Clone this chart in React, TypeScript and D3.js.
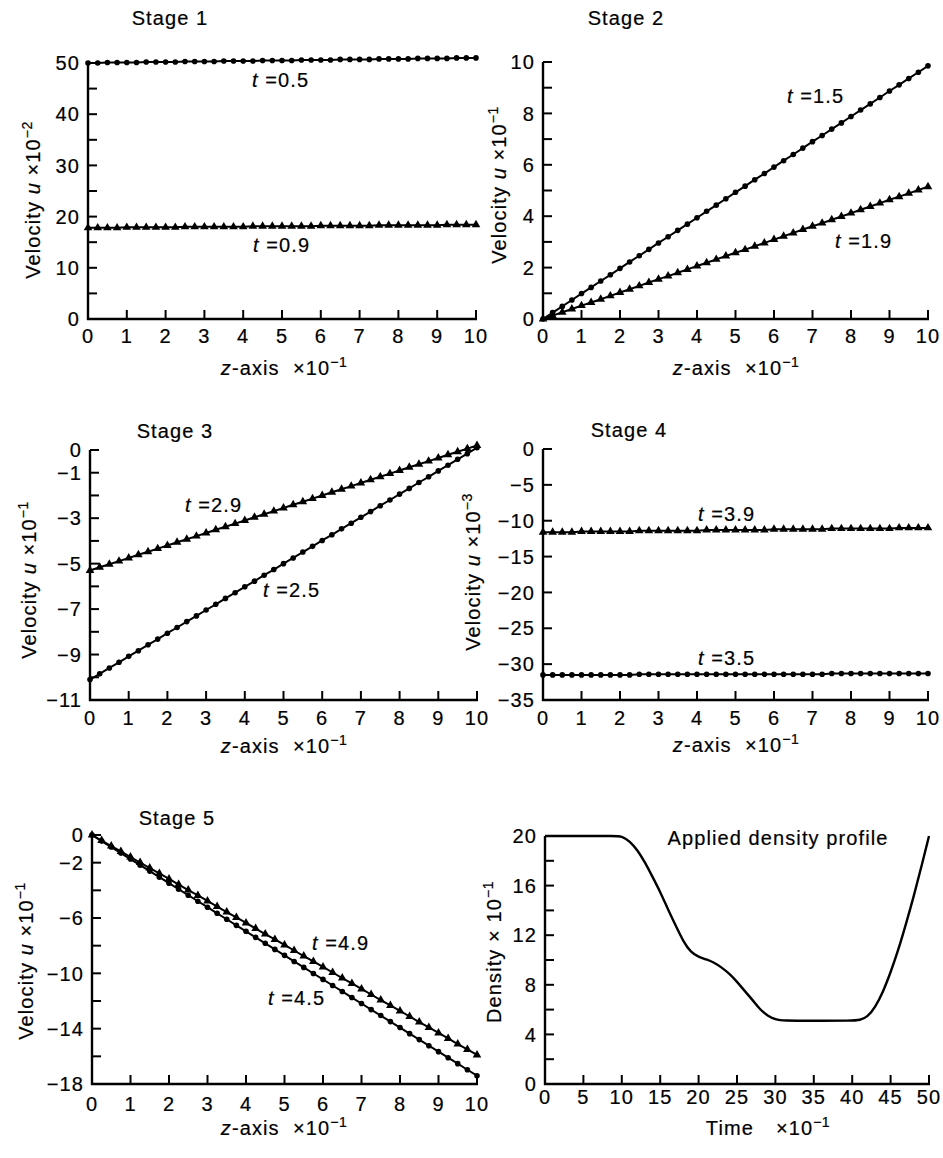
import * as d3 from 'd3';

const FONT = '"Liberation Sans", Arial, Helvetica, sans-serif';

// computed nodes along the z-axis (x10^-1)
const zNodes = [0, 0.25, 0.5, 0.75, 1, 1.25, 1.5, 1.75, 2, 2.25, 2.5, 2.75, 3, 3.25, 3.5, 3.75, 4, 4.25, 4.5, 4.75, 5, 5.25, 5.5, 5.75, 6, 6.25, 6.5, 6.75, 7, 7.25, 7.5, 7.75, 8, 8.25, 8.5, 8.75, 9, 9.25, 9.5, 9.75, 10];

// Stage 1 (x10^-2)
const uT05 = [50.0, 50.0, 50.1, 50.1, 50.1, 50.1, 50.2, 50.2, 50.2, 50.2, 50.3, 50.3, 50.3, 50.3, 50.4, 50.4, 50.4, 50.4, 50.5, 50.5, 50.5, 50.5, 50.6, 50.6, 50.6, 50.6, 50.7, 50.7, 50.7, 50.7, 50.8, 50.8, 50.8, 50.8, 50.9, 50.9, 50.9, 50.9, 51.0, 51.0, 51.0];
const uT09 = [17.8, 17.8, 17.8, 17.8, 17.9, 17.9, 17.9, 17.9, 17.9, 17.9, 18.0, 18.0, 18.0, 18.0, 18.0, 18.0, 18.0, 18.1, 18.1, 18.1, 18.1, 18.1, 18.1, 18.1, 18.2, 18.2, 18.2, 18.2, 18.2, 18.2, 18.3, 18.3, 18.3, 18.3, 18.3, 18.3, 18.3, 18.4, 18.4, 18.4, 18.4];

// Stage 2 (x10^-1)
const uT15 = [0.00, 0.25, 0.49, 0.74, 0.99, 1.23, 1.48, 1.72, 1.97, 2.22, 2.46, 2.71, 2.96, 3.20, 3.45, 3.69, 3.94, 4.19, 4.43, 4.68, 4.93, 5.17, 5.42, 5.66, 5.91, 6.16, 6.40, 6.65, 6.90, 7.14, 7.39, 7.63, 7.88, 8.13, 8.37, 8.62, 8.87, 9.11, 9.36, 9.60, 9.85];
const uT19 = [0.00, 0.13, 0.26, 0.39, 0.52, 0.64, 0.77, 0.90, 1.03, 1.16, 1.29, 1.42, 1.55, 1.67, 1.80, 1.93, 2.06, 2.19, 2.32, 2.45, 2.58, 2.70, 2.83, 2.96, 3.09, 3.22, 3.35, 3.48, 3.61, 3.73, 3.86, 3.99, 4.12, 4.25, 4.38, 4.51, 4.64, 4.76, 4.89, 5.02, 5.15];

// Stage 3 (x10^-1)
const uT29 = [-5.30, -5.16, -5.03, -4.89, -4.75, -4.61, -4.48, -4.34, -4.20, -4.06, -3.93, -3.79, -3.65, -3.51, -3.38, -3.24, -3.10, -2.96, -2.83, -2.69, -2.55, -2.41, -2.28, -2.14, -2.00, -1.86, -1.73, -1.59, -1.45, -1.31, -1.18, -1.04, -0.90, -0.76, -0.63, -0.49, -0.35, -0.21, -0.08, 0.06, 0.20];
const uT25 = [-10.10, -9.85, -9.59, -9.34, -9.08, -8.83, -8.57, -8.32, -8.06, -7.81, -7.55, -7.30, -7.04, -6.79, -6.53, -6.28, -6.02, -5.77, -5.51, -5.26, -5.00, -4.75, -4.49, -4.24, -3.98, -3.73, -3.47, -3.22, -2.96, -2.71, -2.45, -2.20, -1.94, -1.69, -1.43, -1.18, -0.92, -0.67, -0.41, -0.16, 0.10];

// Stage 4 (x10^-3)
const uT39 = [-11.6, -11.6, -11.6, -11.6, -11.5, -11.5, -11.5, -11.5, -11.5, -11.5, -11.4, -11.4, -11.4, -11.4, -11.4, -11.4, -11.4, -11.3, -11.3, -11.3, -11.3, -11.3, -11.3, -11.3, -11.2, -11.2, -11.2, -11.2, -11.2, -11.2, -11.1, -11.1, -11.1, -11.1, -11.1, -11.1, -11.1, -11.0, -11.0, -11.0, -11.0];
const uT35 = [-31.5, -31.5, -31.5, -31.5, -31.5, -31.5, -31.5, -31.5, -31.5, -31.5, -31.4, -31.4, -31.4, -31.4, -31.4, -31.4, -31.4, -31.4, -31.4, -31.4, -31.4, -31.4, -31.4, -31.4, -31.4, -31.4, -31.4, -31.4, -31.4, -31.4, -31.3, -31.3, -31.3, -31.3, -31.3, -31.3, -31.3, -31.3, -31.3, -31.3, -31.3];

// Stage 5 (x10^-1)
const uT49 = [0.00, -0.40, -0.80, -1.19, -1.59, -1.99, -2.39, -2.78, -3.18, -3.58, -3.98, -4.37, -4.77, -5.17, -5.57, -5.96, -6.36, -6.76, -7.16, -7.55, -7.95, -8.35, -8.75, -9.14, -9.54, -9.94, -10.34, -10.73, -11.13, -11.53, -11.93, -12.32, -12.72, -13.12, -13.52, -13.91, -14.31, -14.71, -15.11, -15.50, -15.90];
const uT45 = [0.00, -0.44, -0.87, -1.31, -1.74, -2.18, -2.61, -3.05, -3.48, -3.92, -4.35, -4.79, -5.22, -5.66, -6.09, -6.53, -6.96, -7.40, -7.83, -8.27, -8.70, -9.14, -9.57, -10.01, -10.44, -10.88, -11.31, -11.75, -12.18, -12.62, -13.05, -13.49, -13.92, -14.36, -14.79, -15.23, -15.66, -16.10, -16.53, -16.97, -17.40];

// Applied density profile (time x10^-1, density x10^-1)
const densityTime = [0, 5, 9, 10, 11, 12, 13, 14, 15, 16, 17, 18, 19, 20, 21, 22, 23, 24, 25, 26, 27, 28, 29, 30, 31, 35, 40, 41, 42, 43, 44, 45, 46, 47, 48, 49, 50];
const densityValue = [20, 20, 20, 20, 19.6, 18.9, 17.9, 16.7, 15.5, 14.1, 12.8, 11.5, 10.6, 10.25, 10.05, 9.8, 9.4, 8.9, 8.25, 7.5, 6.8, 6.0, 5.5, 5.2, 5.1, 5.1, 5.1, 5.15, 5.4, 6.2, 7.4, 9.0, 10.8, 12.9, 15.1, 17.5, 20];

const zTicks = [0, 1, 2, 3, 4, 5, 6, 7, 8, 9, 10];
const timeTicks = [0, 5, 10, 15, 20, 25, 30, 35, 40, 45, 50];

type Seg = { t: string; i?: boolean; sup?: boolean; dx?: number };
type Series = { y: number[]; x?: number[]; marker?: 'circle' | 'triangle'; smooth?: boolean };
type Note = { time: string; x: number; y: number };

const velTitle = (exp: string): Seg[] => [{ t: 'Velocity ' }, { t: 'u', i: true }, { t: ' \u00d710' }, { t: exp, sup: true }];
const zTitle: Seg[] = [{ t: 'z', i: true }, { t: '-axis  \u00d710' }, { t: '\u22121', sup: true }];

const panels = [
  {
    left: 88, right: 476, top: 63, bottom: 319,
    xDomain: [0, 10], yDomain: [0, 50], xTicks: zTicks,
    yTicks: [0, 5, 10, 15, 20, 25, 30, 35, 40, 45, 50], yLabels: [0, 10, 20, 30, 40, 50],
    title: { text: 'Stage 1', x: 170, y: 25 },
    xTitle: { segs: zTitle, x: 284, y: 375 }, xLabelDy: 24,
    yTitle: { segs: velTitle('\u22122'), x: 33, y: 200 },
    series: [{ y: uT05, marker: 'circle' }, { y: uT09, marker: 'triangle' }] as Series[],
    notes: [{ time: '0.5', x: 252, y: 87 }, { time: '0.9', x: 253, y: 252 }] as Note[],
  },
  {
    left: 543, right: 928, top: 62, bottom: 319,
    xDomain: [0, 10], yDomain: [0, 10], xTicks: zTicks,
    yTicks: [0, 1, 2, 3, 4, 5, 6, 7, 8, 9, 10], yLabels: [0, 2, 4, 6, 8, 10],
    title: { text: 'Stage 2', x: 626, y: 25 },
    xTitle: { segs: zTitle, x: 736, y: 375 }, xLabelDy: 24,
    yTitle: { segs: velTitle('\u22121'), x: 499, y: 185 },
    series: [{ y: uT15, marker: 'circle' }, { y: uT19, marker: 'triangle' }] as Series[],
    notes: [{ time: '1.5', x: 787, y: 103 }, { time: '1.9', x: 835, y: 248 }] as Note[],
  },
  {
    left: 90, right: 477, top: 450, bottom: 700,
    xDomain: [0, 10], yDomain: [-11, 0], xTicks: zTicks,
    yTicks: [0, -1, -2, -3, -4, -5, -6, -7, -8, -9, -10, -11], yLabels: [0, -1, -3, -5, -7, -9, -11],
    title: { text: 'Stage 3', x: 175, y: 438 },
    xTitle: { segs: zTitle, x: 284, y: 753 }, xLabelDy: 25,
    yTitle: { segs: velTitle('\u22121'), x: 29, y: 580 },
    series: [{ y: uT29, marker: 'triangle' }, { y: uT25, marker: 'circle' }] as Series[],
    notes: [{ time: '2.9', x: 185, y: 512 }, { time: '2.5', x: 263, y: 597 }] as Note[],
  },
  {
    left: 543, right: 928, top: 449, bottom: 700,
    xDomain: [0, 10], yDomain: [-35, 0], xTicks: zTicks,
    yTicks: [0, -5, -10, -15, -20, -25, -30, -35], yLabels: [0, -5, -10, -15, -20, -25, -30, -35],
    title: { text: 'Stage 4', x: 629, y: 437 },
    xTitle: { segs: zTitle, x: 736, y: 752 }, xLabelDy: 25,
    yTitle: { segs: velTitle('\u22123'), x: 473, y: 572 },
    series: [{ y: uT39, marker: 'triangle' }, { y: uT35, marker: 'circle' }] as Series[],
    notes: [{ time: '3.9', x: 698, y: 521 }, { time: '3.5', x: 698, y: 665 }] as Note[],
  },
  {
    left: 92, right: 477, top: 835, bottom: 1084,
    xDomain: [0, 10], yDomain: [-18, 0], xTicks: zTicks,
    yTicks: [0, -2, -4, -6, -8, -10, -12, -14, -16, -18], yLabels: [0, -2, -6, -10, -14, -18],
    title: { text: 'Stage 5', x: 177, y: 825 },
    xTitle: { segs: zTitle, x: 284, y: 1135 }, xLabelDy: 27,
    yTitle: { segs: velTitle('\u22121'), x: 26, y: 961 },
    series: [{ y: uT49, marker: 'triangle' }, { y: uT45, marker: 'circle' }] as Series[],
    notes: [{ time: '4.9', x: 312, y: 950 }, { time: '4.5', x: 268, y: 1005 }] as Note[],
  },
  {
    left: 545, right: 929, top: 836, bottom: 1084,
    xDomain: [0, 50], yDomain: [0, 20], xTicks: timeTicks,
    yTicks: [0, 2, 4, 6, 8, 10, 12, 14, 16, 18, 20], yLabels: [0, 4, 8, 12, 16, 20],
    title: { text: 'Applied density profile', x: 778, y: 845 },
    xTitle: { segs: [{ t: 'Time' }, { t: '\u00d710', dx: 22 }, { t: '\u22121', sup: true }] as Seg[], x: 768, y: 1135 }, xLabelDy: 20,
    yTitle: { segs: [{ t: 'Density \u00d7 10' }, { t: '\u22121', sup: true }] as Seg[], x: 494, y: 952 },
    series: [{ x: densityTime, y: densityValue, smooth: true }] as Series[],
    notes: [] as Note[],
  },
];

function Segs({ segs }: { segs: Seg[] }) {
  return (
    <>
      {segs.map((s, k) => (
        <tspan key={k} fontStyle={s.i ? 'italic' : undefined} fontSize={s.sup ? 14 : undefined}
          dy={s.sup ? -8 : undefined} dx={s.dx} letterSpacing={s.sup ? 0.5 : undefined}>
          {s.t}
        </tspan>
      ))}
    </>
  );
}

function Panel({ p }: { p: typeof panels[number] }) {
  const x = d3.scaleLinear().domain(p.xDomain).range([p.left, p.right]);
  const y = d3.scaleLinear().domain(p.yDomain).range([p.bottom, p.top]);
  const tri = d3.symbol(d3.symbolTriangle, 32)();
  const fmt = (v: number) => (v < 0 ? '\u2212' + Math.abs(v) : String(v));

  return (
    <g>
      {p.series.map((s, k) => {
        const xs = s.x ?? zNodes;
        const pts = s.y.map((v, i) => [xs[i], v] as [number, number]);
        const line = d3.line<[number, number]>()
          .x(d => x(d[0])).y(d => y(d[1]))
          .curve(s.smooth ? d3.curveBasis : d3.curveLinear);
        return (
          <g key={k}>
            <path d={line(pts) ?? ''} fill="none" stroke="#000" strokeWidth={s.smooth ? 2.4 : 2} />
            {s.marker && pts.map((d, i) => s.marker === 'circle'
              ? <circle key={i} cx={x(d[0])} cy={y(d[1])} r={2.8} fill="#000" />
              : <path key={i} d={tri ?? ''} transform={`translate(${x(d[0])},${y(d[1])})`} fill="#000" />)}
          </g>
        );
      })}

      {/* axes */}
      <line x1={p.left} x2={p.left} y1={p.top} y2={p.bottom + 1} stroke="#000" strokeWidth={2.4} />
      <line x1={p.left - 1} x2={p.right + 1} y1={p.bottom} y2={p.bottom} stroke="#000" strokeWidth={2.4} />
      {p.yTicks.map(v => (
        <line key={'yt' + v} x1={p.left} x2={p.left + 9} y1={y(v)} y2={y(v)} stroke="#000" strokeWidth={2} />
      ))}
      {p.xTicks.map(v => (
        <line key={'xt' + v} x1={x(v)} x2={x(v)} y1={p.bottom} y2={p.bottom - 9} stroke="#000" strokeWidth={2} />
      ))}
      <g fontFamily={FONT} fontSize={20} letterSpacing={1.1} fill="#000" stroke="#000" strokeWidth={0.2}>
        {p.yLabels.map(v => (
          <text key={'yl' + v} x={p.left - 8} y={y(v)} dy="0.36em" textAnchor="end">{fmt(v)}</text>
        ))}
        {p.xTicks.map(v => (
          <text key={'xl' + v} x={x(v)} y={p.bottom + p.xLabelDy} textAnchor="middle">{v}</text>
        ))}
        <text x={p.title.x} y={p.title.y} textAnchor="middle">{p.title.text}</text>
        <text x={p.xTitle.x} y={p.xTitle.y} textAnchor="middle" xmlSpace="preserve"><Segs segs={p.xTitle.segs} /></text>
        <text transform={`translate(${p.yTitle.x},${p.yTitle.y}) rotate(-90)`} dy="0.36em" textAnchor="middle" xmlSpace="preserve">
          <Segs segs={p.yTitle.segs} />
        </text>
        {p.notes.map(n => (
          <text key={n.time} x={n.x} y={n.y} xmlSpace="preserve">
            <tspan fontStyle="italic">t</tspan> =<tspan>{n.time}</tspan>
          </text>
        ))}
      </g>
    </g>
  );
}

export default function App() {
  return (
    <svg width={943} height={1158} viewBox="0 0 943 1158"
      style={{ position: 'absolute', left: 0, top: 0, background: '#fff' }}>
      <rect width={943} height={1158} fill="#fff" />
      {panels.map((p, k) => <Panel key={k} p={p} />)}
    </svg>
  );
}
